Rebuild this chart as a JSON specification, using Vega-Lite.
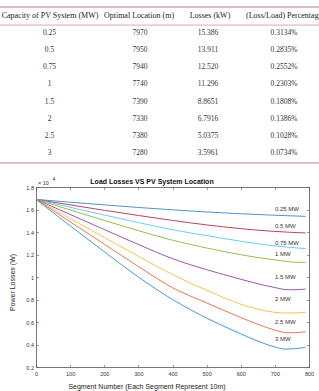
{
  "$schema": "https://vega.github.io/schema/vega-lite/v6.json",
  "width": 319,
  "height": 391,
  "autosize": {"type": "none"},
  "padding": 0,
  "background": "white",
  "config": {"view": {"stroke": null}, "font": "Liberation Sans"},
  "datasets": {
    "tableHeader": [
      {"r": 0, "c": 1, "t": "Capacity of PV System (MW)"},
      {"r": 0, "c": 2, "t": "Optimal Location (m)"},
      {"r": 0, "c": 3, "t": "Losses (kW)"},
      {"r": 0, "c": 4, "t": "(Loss/Load) Percentage"}
    ],
    "tableBody": [
      {"r": 1, "c": 1, "t": "0.25"}, {"r": 1, "c": 2, "t": "7970"}, {"r": 1, "c": 3, "t": "15.386"}, {"r": 1, "c": 4, "t": "0.3134%"},
      {"r": 2, "c": 1, "t": "0.5"}, {"r": 2, "c": 2, "t": "7950"}, {"r": 2, "c": 3, "t": "13.911"}, {"r": 2, "c": 4, "t": "0.2835%"},
      {"r": 3, "c": 1, "t": "0.75"}, {"r": 3, "c": 2, "t": "7940"}, {"r": 3, "c": 3, "t": "12.520"}, {"r": 3, "c": 4, "t": "0.2552%"},
      {"r": 4, "c": 1, "t": "1"}, {"r": 4, "c": 2, "t": "7740"}, {"r": 4, "c": 3, "t": "11.296"}, {"r": 4, "c": 4, "t": "0.2303%"},
      {"r": 5, "c": 1, "t": "1.5"}, {"r": 5, "c": 2, "t": "7390"}, {"r": 5, "c": 3, "t": "8.8651"}, {"r": 5, "c": 4, "t": "0.1808%"},
      {"r": 6, "c": 1, "t": "2"}, {"r": 6, "c": 2, "t": "7330"}, {"r": 6, "c": 3, "t": "6.7916"}, {"r": 6, "c": 4, "t": "0.1386%"},
      {"r": 7, "c": 1, "t": "2.5"}, {"r": 7, "c": 2, "t": "7380"}, {"r": 7, "c": 3, "t": "5.0375"}, {"r": 7, "c": 4, "t": "0.1028%"},
      {"r": 8, "c": 1, "t": "3"}, {"r": 8, "c": 2, "t": "7280"}, {"r": 8, "c": 3, "t": "3.5961"}, {"r": 8, "c": 4, "t": "0.0734%"}
    ],
    "losses": [
      {"pv": "0.25 MW", "segment": 0, "loss": 1.69}, {"pv": "0.25 MW", "segment": 100, "loss": 1.665}, {"pv": "0.25 MW", "segment": 200, "loss": 1.641}, {"pv": "0.25 MW", "segment": 300, "loss": 1.618}, {"pv": "0.25 MW", "segment": 400, "loss": 1.597}, {"pv": "0.25 MW", "segment": 500, "loss": 1.578}, {"pv": "0.25 MW", "segment": 600, "loss": 1.562}, {"pv": "0.25 MW", "segment": 700, "loss": 1.549}, {"pv": "0.25 MW", "segment": 790, "loss": 1.539},
      {"pv": "0.5 MW", "segment": 0, "loss": 1.69}, {"pv": "0.5 MW", "segment": 100, "loss": 1.641}, {"pv": "0.5 MW", "segment": 200, "loss": 1.593}, {"pv": "0.5 MW", "segment": 300, "loss": 1.547}, {"pv": "0.5 MW", "segment": 400, "loss": 1.503}, {"pv": "0.5 MW", "segment": 500, "loss": 1.463}, {"pv": "0.5 MW", "segment": 600, "loss": 1.43}, {"pv": "0.5 MW", "segment": 700, "loss": 1.405}, {"pv": "0.5 MW", "segment": 790, "loss": 1.3915},
      {"pv": "0.75 MW", "segment": 0, "loss": 1.69}, {"pv": "0.75 MW", "segment": 100, "loss": 1.62}, {"pv": "0.75 MW", "segment": 200, "loss": 1.551}, {"pv": "0.75 MW", "segment": 300, "loss": 1.484}, {"pv": "0.75 MW", "segment": 400, "loss": 1.42}, {"pv": "0.75 MW", "segment": 500, "loss": 1.368}, {"pv": "0.75 MW", "segment": 600, "loss": 1.318}, {"pv": "0.75 MW", "segment": 700, "loss": 1.276}, {"pv": "0.75 MW", "segment": 790, "loss": 1.2525},
      {"pv": "1 MW", "segment": 0, "loss": 1.69}, {"pv": "1 MW", "segment": 100, "loss": 1.596}, {"pv": "1 MW", "segment": 200, "loss": 1.503}, {"pv": "1 MW", "segment": 300, "loss": 1.412}, {"pv": "1 MW", "segment": 400, "loss": 1.327}, {"pv": "1 MW", "segment": 500, "loss": 1.258}, {"pv": "1 MW", "segment": 600, "loss": 1.198}, {"pv": "1 MW", "segment": 700, "loss": 1.152}, {"pv": "1 MW", "segment": 774, "loss": 1.1296}, {"pv": "1 MW", "segment": 790, "loss": 1.1305},
      {"pv": "1.5 MW", "segment": 0, "loss": 1.69}, {"pv": "1.5 MW", "segment": 100, "loss": 1.556}, {"pv": "1.5 MW", "segment": 200, "loss": 1.422}, {"pv": "1.5 MW", "segment": 300, "loss": 1.289}, {"pv": "1.5 MW", "segment": 400, "loss": 1.163}, {"pv": "1.5 MW", "segment": 500, "loss": 1.065}, {"pv": "1.5 MW", "segment": 600, "loss": 0.98}, {"pv": "1.5 MW", "segment": 650, "loss": 0.94}, {"pv": "1.5 MW", "segment": 700, "loss": 0.906}, {"pv": "1.5 MW", "segment": 739, "loss": 0.8865}, {"pv": "1.5 MW", "segment": 765, "loss": 0.8875}, {"pv": "1.5 MW", "segment": 790, "loss": 0.893},
      {"pv": "2 MW", "segment": 0, "loss": 1.69}, {"pv": "2 MW", "segment": 100, "loss": 1.521}, {"pv": "2 MW", "segment": 200, "loss": 1.352}, {"pv": "2 MW", "segment": 300, "loss": 1.184}, {"pv": "2 MW", "segment": 400, "loss": 1.022}, {"pv": "2 MW", "segment": 500, "loss": 0.882}, {"pv": "2 MW", "segment": 600, "loss": 0.758}, {"pv": "2 MW", "segment": 650, "loss": 0.713}, {"pv": "2 MW", "segment": 700, "loss": 0.686}, {"pv": "2 MW", "segment": 733, "loss": 0.6792}, {"pv": "2 MW", "segment": 765, "loss": 0.681}, {"pv": "2 MW", "segment": 790, "loss": 0.687},
      {"pv": "2.5 MW", "segment": 0, "loss": 1.69}, {"pv": "2.5 MW", "segment": 100, "loss": 1.491}, {"pv": "2.5 MW", "segment": 200, "loss": 1.292}, {"pv": "2.5 MW", "segment": 300, "loss": 1.093}, {"pv": "2.5 MW", "segment": 400, "loss": 0.905}, {"pv": "2.5 MW", "segment": 500, "loss": 0.77}, {"pv": "2.5 MW", "segment": 600, "loss": 0.64}, {"pv": "2.5 MW", "segment": 650, "loss": 0.58}, {"pv": "2.5 MW", "segment": 700, "loss": 0.528}, {"pv": "2.5 MW", "segment": 738, "loss": 0.5038}, {"pv": "2.5 MW", "segment": 765, "loss": 0.506}, {"pv": "2.5 MW", "segment": 790, "loss": 0.513},
      {"pv": "3 MW", "segment": 0, "loss": 1.69}, {"pv": "3 MW", "segment": 100, "loss": 1.455}, {"pv": "3 MW", "segment": 200, "loss": 1.225}, {"pv": "3 MW", "segment": 300, "loss": 1.0}, {"pv": "3 MW", "segment": 400, "loss": 0.8}, {"pv": "3 MW", "segment": 500, "loss": 0.635}, {"pv": "3 MW", "segment": 600, "loss": 0.495}, {"pv": "3 MW", "segment": 650, "loss": 0.43}, {"pv": "3 MW", "segment": 700, "loss": 0.378}, {"pv": "3 MW", "segment": 728, "loss": 0.3596}, {"pv": "3 MW", "segment": 760, "loss": 0.363}, {"pv": "3 MW", "segment": 790, "loss": 0.376}
    ],
    "labels": [
      {"label": "0.25 MW", "segment": 700, "loss": 1.604},
      {"label": "0.5 MW", "segment": 700, "loss": 1.451},
      {"label": "0.75 MW", "segment": 700, "loss": 1.305},
      {"label": "1 MW", "segment": 700, "loss": 1.202},
      {"label": "1.5 MW", "segment": 700, "loss": 1.0},
      {"label": "2 MW", "segment": 700, "loss": 0.802},
      {"label": "2.5 MW", "segment": 700, "loss": 0.597},
      {"label": "3 MW", "segment": 700, "loss": 0.449}
    ]
  },
  "layer": [
    {
      "data": {"values": [{}]},
      "mark": {"type": "rule", "color": "#d9bcc1", "strokeWidth": 2},
      "encoding": {"y": {"datum": -0.54, "type": "quantitative", "scale": {"domain": [0, 8], "range": [16.2, 152.7], "nice": false, "zero": false}, "axis": null}}
    },
    {
      "data": {"values": [{}]},
      "mark": {"type": "rule", "color": "#d6adb3", "strokeWidth": 1},
      "encoding": {"y": {"datum": 0.52, "type": "quantitative", "scale": {"domain": [0, 8], "range": [16.2, 152.7], "nice": false, "zero": false}, "axis": null}}
    },
    {
      "data": {"values": [{}]},
      "mark": {"type": "rule", "color": "#c4838c", "strokeWidth": 1},
      "encoding": {"y": {"datum": 8.6, "type": "quantitative", "scale": {"domain": [0, 8], "range": [16.2, 152.7], "nice": false, "zero": false}, "axis": null}}
    },
    {
      "data": {"name": "tableHeader"},
      "transform": [{"filter": "datum.c < 4"}],
      "mark": {"type": "text", "font": "Liberation Serif", "fontSize": 8, "color": "#222", "align": "center", "baseline": "middle"},
      "encoding": {
        "text": {"field": "t"},
        "x": {"field": "c", "type": "quantitative", "scale": {"domain": [1, 2, 3, 4], "range": [50, 139, 210, 284], "nice": false, "zero": false}, "axis": null},
        "y": {"field": "r", "type": "quantitative", "scale": {"domain": [0, 8], "range": [16.2, 152.7], "nice": false, "zero": false}, "axis": null}
      }
    },
    {
      "data": {"name": "tableHeader"},
      "transform": [{"filter": "datum.c == 4"}],
      "mark": {"type": "text", "font": "Liberation Serif", "fontSize": 8, "color": "#222", "align": "left", "baseline": "middle", "dx": -38, "limit": 73, "ellipsis": "\u200b"},
      "encoding": {
        "text": {"field": "t"},
        "x": {"field": "c", "type": "quantitative", "scale": {"domain": [1, 2, 3, 4], "range": [50, 139, 210, 284], "nice": false, "zero": false}, "axis": null},
        "y": {"field": "r", "type": "quantitative", "scale": {"domain": [0, 8], "range": [16.2, 152.7], "nice": false, "zero": false}, "axis": null}
      }
    },
    {
      "data": {"name": "tableBody"},
      "mark": {"type": "text", "font": "Liberation Serif", "fontSize": 7.5, "color": "#333", "align": "center", "baseline": "middle"},
      "encoding": {
        "text": {"field": "t"},
        "x": {"field": "c", "type": "quantitative", "scale": {"domain": [1, 2, 3, 4], "range": [49.5, 140, 208, 284], "nice": false, "zero": false}, "axis": null},
        "y": {"field": "r", "type": "quantitative", "scale": {"domain": [0, 8], "range": [16.2, 152.7], "nice": false, "zero": false}, "axis": null}
      }
    },
    {
      "data": {"name": "losses"},
      "mark": {"type": "line", "strokeWidth": 0.9, "interpolate": "monotone"},
      "encoding": {
        "x": {"field": "segment", "type": "quantitative", "scale": {"domain": [0, 800], "range": [36, 309], "nice": false, "zero": false},
          "axis": {"orient": "bottom", "offset": -24, "values": [0, 100, 200, 300, 400, 500, 600, 700, 800], "format": "d", "grid": false,
            "tickSize": -2.5, "tickColor": "#555", "tickWidth": 0.6, "domainColor": "#555", "domainWidth": 0.8,
            "labelFont": "Liberation Sans", "labelFontSize": 5.5, "labelColor": "#333", "labelPadding": 6.5, "labelFlush": false, "labelOverlap": false,
            "title": "Segment Number (Each Segment Represent 10m)", "titleFont": "Liberation Sans", "titleFontSize": 7, "titleFontWeight": "normal", "titleColor": "#222",
            "titleX": 146.5, "titleY": 15.5, "titleAlign": "center", "titleBaseline": "top", "titleAnchor": null}},
        "y": {"field": "loss", "type": "quantitative", "scale": {"domain": [0.2, 1.8], "range": [367, 187], "nice": false, "zero": false},
          "axis": {"orient": "left", "offset": -36, "values": [0.2, 0.4, 0.6, 0.8, 1, 1.2, 1.4, 1.6, 1.8], "format": "~g", "grid": false,
            "tickSize": -2.5, "tickColor": "#555", "tickWidth": 0.6, "domainColor": "#555", "domainWidth": 0.8,
            "labelFont": "Liberation Sans", "labelFontSize": 5.5, "labelColor": "#333", "labelPadding": 5, "labelFlush": false, "labelOverlap": false,
            "title": "Power Losses (W)", "titleFont": "Liberation Sans", "titleFontSize": 7, "titleFontWeight": "normal", "titleColor": "#222",
            "titleX": -24, "titleY": 282, "titleAngle": -90, "titleAlign": "center", "titleBaseline": "middle", "titleAnchor": null}},
        "color": {"field": "pv", "type": "nominal", "legend": null,
          "scale": {"domain": ["0.25 MW", "0.5 MW", "0.75 MW", "1 MW", "1.5 MW", "2 MW", "2.5 MW", "3 MW"],
            "range": ["#3b87c4", "#b03050", "#5cc5ef", "#8ab540", "#8d44a0", "#efbd40", "#e0693a", "#2f8fd6"]}}
      }
    },
    {
      "data": {"name": "labels"},
      "mark": {"type": "text", "font": "Liberation Sans", "fontSize": 6, "color": "#333", "align": "left", "baseline": "middle"},
      "encoding": {
        "text": {"field": "label"},
        "x": {"field": "segment", "type": "quantitative", "scale": {"domain": [0, 800], "range": [36, 309], "nice": false, "zero": false},
          "axis": {"orient": "top", "offset": -187, "values": [0, 100, 200, 300, 400, 500, 600, 700, 800], "labels": false, "grid": false,
            "tickSize": -2.5, "tickColor": "#555", "tickWidth": 0.6, "domainColor": "#555", "domainWidth": 0.8,
            "title": "Load Losses VS PV System Location", "titleFont": "Liberation Sans", "titleFontSize": 7, "titleFontWeight": "bold", "titleColor": "#111",
            "titleX": 151.5, "titleY": -4, "titleAlign": "center", "titleBaseline": "alphabetic", "titleAnchor": null}},
        "y": {"field": "loss", "type": "quantitative", "scale": {"domain": [0.2, 1.8], "range": [367, 187], "nice": false, "zero": false},
          "axis": {"orient": "right", "offset": -10, "values": [0.2, 0.4, 0.6, 0.8, 1, 1.2, 1.4, 1.6, 1.8], "labels": false, "grid": false, "title": null,
            "tickSize": -2.5, "tickColor": "#555", "tickWidth": 0.6, "domainColor": "#555", "domainWidth": 0.8}}
      }
    },
    {
      "data": {"values": [{}]},
      "mark": {"type": "text", "text": "× 10", "font": "Liberation Sans", "fontSize": 5.5, "color": "#333", "align": "left", "baseline": "middle", "dx": 2, "dy": -4.5},
      "encoding": {
        "x": {"datum": 0, "type": "quantitative", "scale": {"domain": [0, 800], "range": [36, 309], "nice": false, "zero": false}, "axis": null},
        "y": {"datum": 1.8, "type": "quantitative", "scale": {"domain": [0.2, 1.8], "range": [367, 187], "nice": false, "zero": false}, "axis": null}
      }
    },
    {
      "data": {"values": [{}]},
      "mark": {"type": "text", "text": "4", "font": "Liberation Sans", "fontSize": 5, "color": "#333", "align": "left", "baseline": "middle", "dx": 16.5, "dy": -8},
      "encoding": {
        "x": {"datum": 0, "type": "quantitative", "scale": {"domain": [0, 800], "range": [36, 309], "nice": false, "zero": false}, "axis": null},
        "y": {"datum": 1.8, "type": "quantitative", "scale": {"domain": [0.2, 1.8], "range": [367, 187], "nice": false, "zero": false}, "axis": null}
      }
    }
  ],
  "resolve": {"scale": {"x": "independent", "y": "independent", "color": "independent"}, "axis": {"x": "independent", "y": "independent"}}
}
